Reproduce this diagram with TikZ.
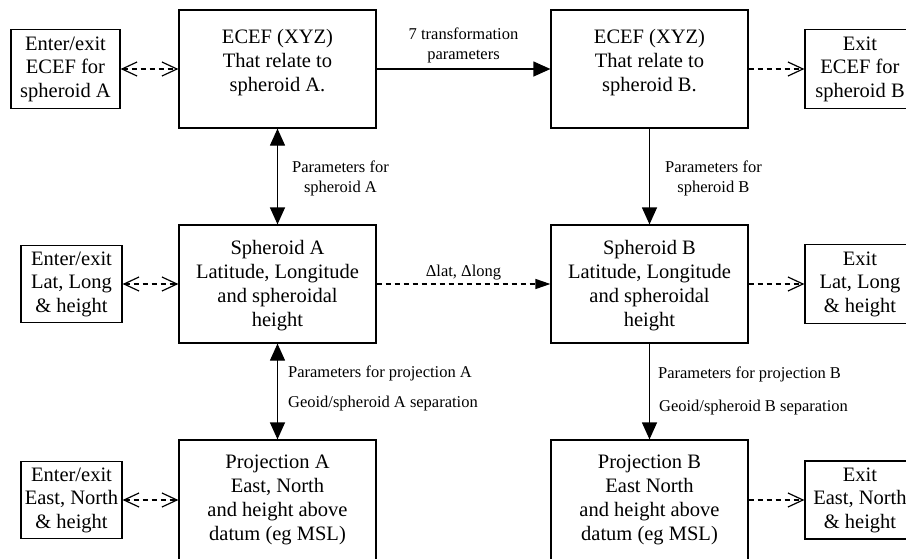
\documentclass[tikz,border=0pt]{standalone}
\usepackage{fontspec}
\setmainfont{Liberation Serif}
\usetikzlibrary{arrows.meta}
\begin{document}
\begin{tikzpicture}[x=1pt,y=-1pt,
  ob/.tip={Straight Barb[length=15pt,width=14pt]},
  bt/.tip={Triangle[length=17pt,width=15pt]},
  st/.tip={Triangle[length=15pt,width=10pt]},
  bigbox/.style={draw, line width=1.2pt, minimum width=197pt, minimum height=118pt, inner sep=0pt, align=center, font=\fontsize{20.5}{24}\selectfont},
  smallbox/.style={draw, line width=1.2pt, inner sep=0pt, align=center, font=\fontsize{20.5}{23.5}\selectfont},
  lbl/.style={font=\fontsize{16.5}{20}\selectfont, inner sep=0pt, align=center},
  con/.style={line width=1.2pt},
  dsh/.style={con, dash pattern=on 5pt off 4pt}
]
\useasboundingbox (0,0) rectangle (906,558);
\clip (0,0) rectangle (906,558);

% main boxes
\node[bigbox] (ecefA) at (277.5,69) {\rule{0pt}{20pt}ECEF (XYZ)\\That relate to\\spheroid A.\\\mbox{}};
\node[bigbox] (ecefB) at (649.5,69) {\rule{0pt}{20pt}ECEF (XYZ)\\That relate to\\spheroid B.\\\mbox{}};
\node[bigbox] (sphA) at (277.5,284) {\rule{0pt}{18pt}Spheroid A\\Latitude, Longitude\\and spheroidal\\height};
\node[bigbox] (sphB) at (649.5,284) {\rule{0pt}{18pt}Spheroid B\\Latitude, Longitude\\and spheroidal\\height};
\node[bigbox, minimum height=120pt] (prjA) at (277.5,500) {Projection A\\East, North\\and height above\\datum (eg MSL)};
\node[bigbox, minimum height=120pt] (prjB) at (649.5,500) {Projection B\\East North\\and height above\\datum (eg MSL)};

% side boxes
\node[smallbox, minimum width=109pt, minimum height=79pt] (inE) at (65.5,69) {Enter/exit\\ECEF for\\spheroid A};
\node[smallbox, minimum width=101pt, minimum height=77pt] (inL) at (71.5,284) {Enter/exit\\Lat, Long\\\& height};
\node[smallbox, minimum width=101pt, minimum height=77pt] (inP) at (71.5,500) {Enter/exit\\East, North\\\& height};
\node[smallbox, minimum width=110pt, minimum height=79pt] (outE) at (860,69) {Exit\\ECEF for\\spheroid B};
\node[smallbox, minimum width=110pt, minimum height=79pt] (outL) at (860,284) {Exit\\Lat, Long\\\& height};
\node[smallbox, minimum width=110pt, minimum height=78pt] (outP) at (860,500) {Exit\\East, North\\\& height};

% connectors, top row
\draw[dsh, {ob}-{ob}] (inE) -- (ecefA);
\draw[con, -{bt}] (ecefA) -- node[lbl, above=5pt] (l7) {7 transformation\\parameters} (ecefB);
\draw[dsh, -{ob}] (ecefB) -- (outE);

% verticals, top
\draw[con, {bt}-{bt}] (ecefA) -- node[lbl, right=14pt, yshift=-2pt] (lpa) {Parameters for\\spheroid A} (sphA);
\draw[con, -{bt}] (ecefB) -- node[lbl, right=15pt, yshift=-2pt] (lpb) {Parameters for\\spheroid B} (sphB);

% middle row
\draw[dsh, {ob}-{ob}] (inL) -- (sphA);
\draw[dsh, -{st}] (sphA) -- node[lbl, above=3pt] (ld) {Δlat, Δlong} (sphB);
\draw[dsh, -{ob}] (sphB) -- (outL);

% verticals, bottom
\draw[con, {bt}-{bt}] (sphA) --
  node[lbl, pos=0.31, right=10pt] (lqa) {Parameters for projection A}
  node[lbl, pos=0.63, right=10pt] (lga) {Geoid/spheroid A separation} (prjA);
\draw[con, -{bt}] (sphB) --
  node[lbl, pos=0.32, right=8pt] (lqb) {Parameters for projection B}
  node[lbl, pos=0.67, right=9pt] (lgb) {Geoid/spheroid B separation} (prjB);

% bottom row
\draw[dsh, {ob}-{ob}] (inP) -- (prjA);
\draw[dsh, -{ob}] (prjB) -- (outP);
\end{tikzpicture}
\end{document}
